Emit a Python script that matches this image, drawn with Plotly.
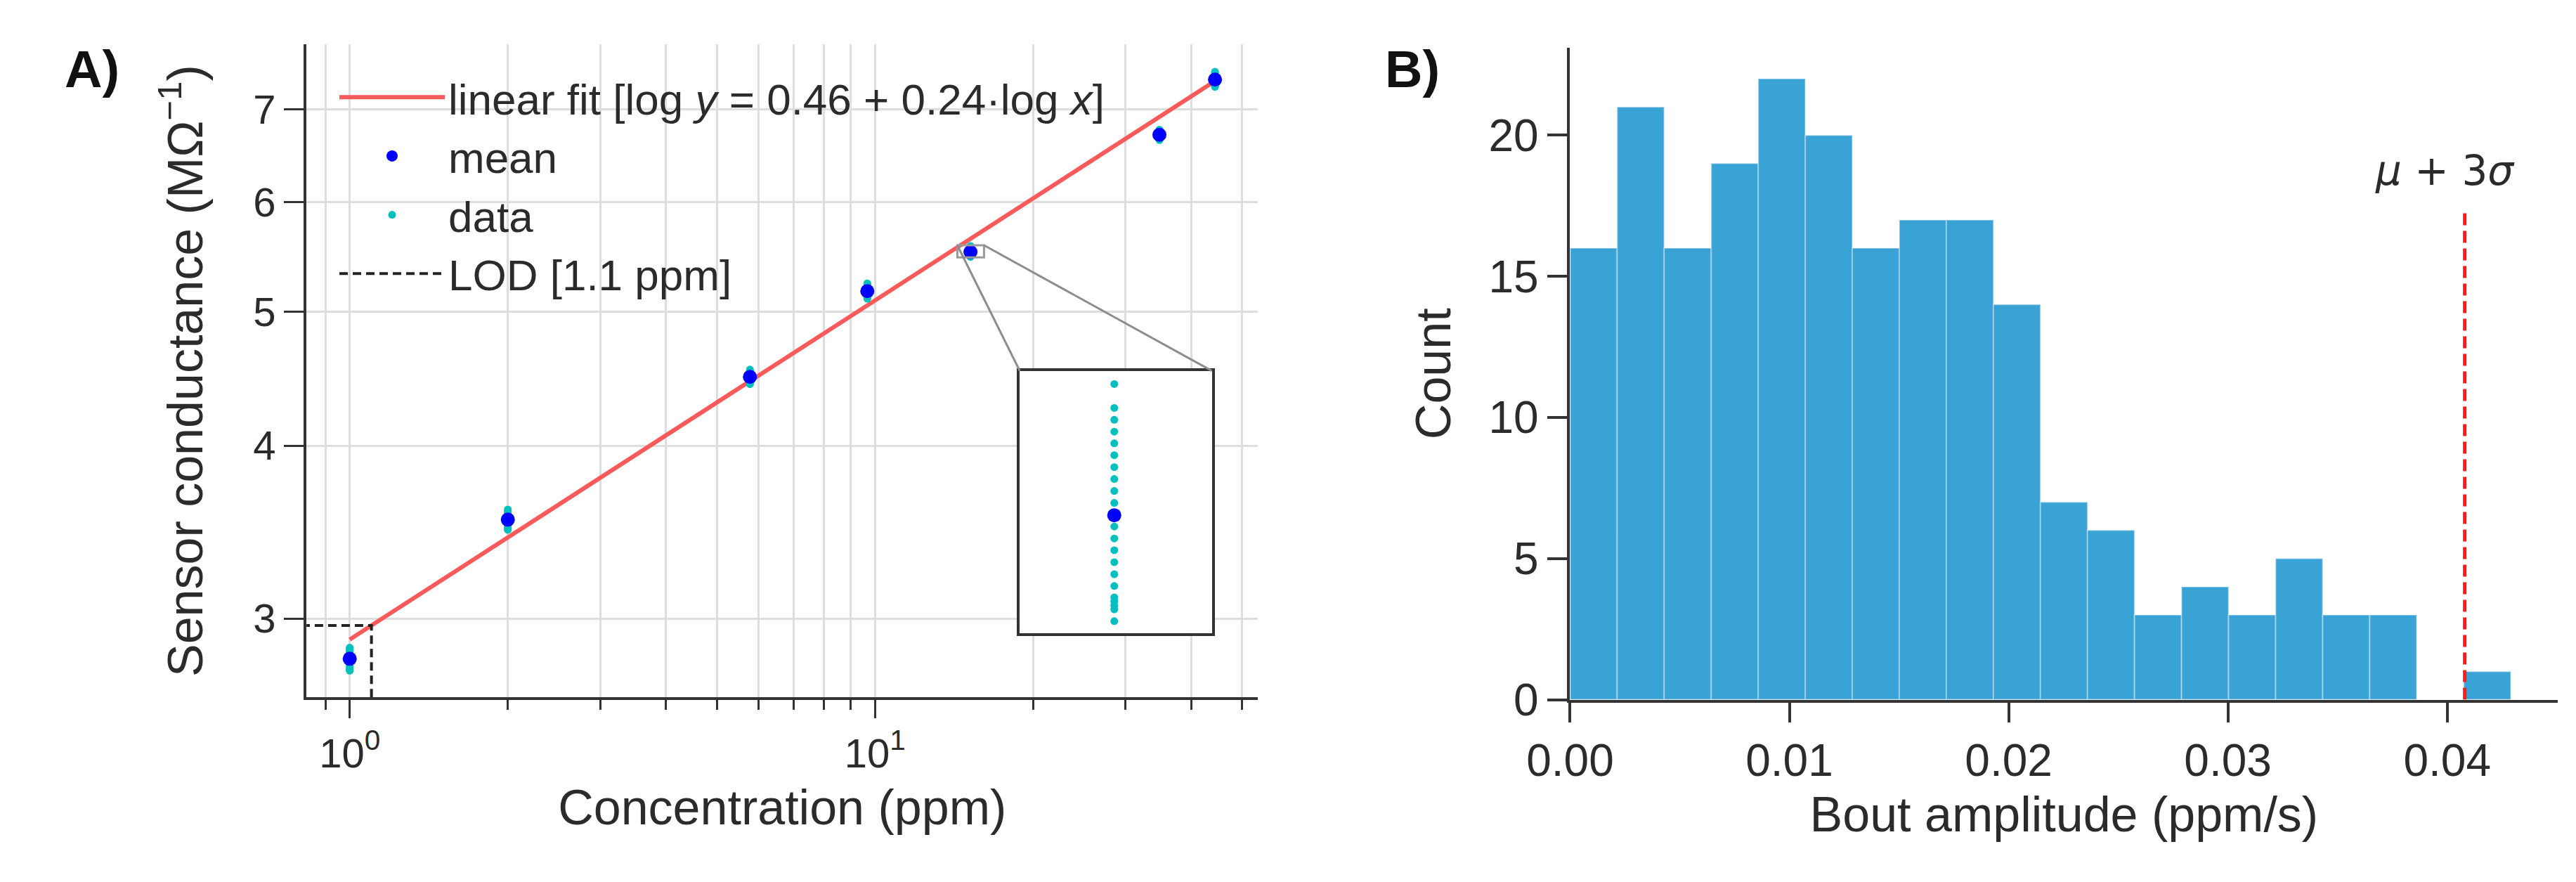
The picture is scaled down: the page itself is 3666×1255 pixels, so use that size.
import numpy as np
import plotly.graph_objects as go

# ---- panel A: sensor calibration ----
conc_ppm = [1.0, 2.0, 5.78, 9.67, 15.2, 34.8, 44.4]
mean_cond = [2.806, 3.537, 4.485, 5.173, 5.521, 6.71, 7.356]

data_1ppm = [2.858, 2.851, 2.842, 2.836, 2.829, 2.820, 2.813, 2.807, 2.798, 2.791,
             2.785, 2.776, 2.770, 2.761, 2.756, 2.751]
data_2ppm = [3.597, 3.588, 3.581, 3.571, 3.564, 3.554, 3.547, 3.537, 3.530, 3.520,
             3.513, 3.503, 3.496, 3.487, 3.481, 3.477]
data_6ppm = [4.540, 4.533, 4.525, 4.519, 4.510, 4.504, 4.495, 4.489, 4.480, 4.474,
             4.465, 4.459, 4.450, 4.444, 4.436, 4.431]
data_10ppm = [5.240, 5.230, 5.223, 5.212, 5.205, 5.194, 5.187, 5.176, 5.169, 5.158,
              5.151, 5.140, 5.133, 5.122, 5.115, 5.108]
data_15ppm = [5.5773, 5.5670, 5.5619, 5.5568, 5.5518, 5.5467, 5.5416, 5.5365, 5.5314,
              5.5263, 5.5212, 5.5162, 5.5111, 5.5061, 5.5010, 5.4959, 5.4909, 5.4861,
              5.4844, 5.4826, 5.4810, 5.4760]
data_35ppm = [6.768, 6.759, 6.752, 6.743, 6.736, 6.727, 6.720, 6.711, 6.704, 6.695,
              6.688, 6.679, 6.672, 6.663, 6.657, 6.651]
data_45ppm = [7.452, 7.439, 7.428, 7.414, 7.403, 7.389, 7.378, 7.364, 7.353, 7.339,
              7.328, 7.314, 7.303, 7.289, 7.278, 7.266]
data_groups = [data_1ppm, data_2ppm, data_6ppm, data_10ppm, data_15ppm, data_35ppm, data_45ppm]

fit_intercept = 0.462
fit_slope = 0.245
lod_ppm = 1.1

# ---- panel B: bout amplitude histogram ----
bin_edges = np.linspace(0.0, 0.0429, 21)
counts = [16, 21, 16, 19, 22, 20, 16, 17, 17, 14, 7, 6, 3, 4, 3, 5, 3, 3, 0, 1]
threshold = 0.0408

TXT = "#2b2b2b"
AX = "#333333"
GRID = "#dedede"
FONT = "Liberation Sans, Arial, sans-serif"

# axis ranges (log10 for log axes)
xr_a = [-0.0824, 1.7294]
yr_a = [0.4202, 0.8921]
dom_xa = [372.4 / 3666, 1750 / 3666]
dom_ya = [1 - 1013.3 / 1255, 1 - 56.7 / 1255]
dom_xb = [2201.7 / 3666, 3631.7 / 3666]
dom_yb = [1 - 1016.7 / 1255, 1 - 61.7 / 1255]
dom_xi = [1405 / 3666, 1683 / 3666]
dom_yi = [1 - 919 / 1255, 1 - 535 / 1255]
ymax_b = 23.1

# inset window around the 15 ppm point
ins_x = [14.35, 16.13]
ins_y = [5.471, 5.583]

fig = go.Figure()

fit_x = [conc_ppm[0], conc_ppm[-1]]
fit_y = [10 ** (fit_intercept + fit_slope * np.log10(v)) for v in fit_x]
fig.add_trace(go.Scatter(
    x=fit_x, y=fit_y, mode="lines",
    line=dict(color="#fa5a5a", width=6),
    name="linear fit [log <i>y</i> = 0.46 + 0.24·log <i>x</i>]",
    legendrank=1, xaxis="x", yaxis="y"))

xs, ys = [], []
for c, grp in zip(conc_ppm, data_groups):
    xs += [c] * len(grp)
    ys += grp
fig.add_trace(go.Scatter(
    x=xs, y=ys, mode="markers",
    marker=dict(color="#00bfbf", size=11),
    name="data", legendrank=3, xaxis="x", yaxis="y"))
fig.add_trace(go.Scatter(
    x=conc_ppm, y=mean_cond, mode="markers",
    marker=dict(color="#0000ff", size=20),
    name="mean", legendrank=2, xaxis="x", yaxis="y"))

lod_y = 10 ** (fit_intercept + fit_slope * np.log10(lod_ppm))
fig.add_trace(go.Scatter(
    x=[lod_ppm, lod_ppm, 10 ** xr_a[0]],
    y=[10 ** yr_a[0], lod_y, lod_y],
    mode="lines", line=dict(color="#222222", width=4, dash="12px,7px"),
    name="LOD [1.1 ppm]", legendrank=4, xaxis="x", yaxis="y"))

# inset: same readings, zoomed
fig.add_trace(go.Scatter(
    x=xs, y=ys, mode="markers", marker=dict(color="#00bfbf", size=11),
    showlegend=False, xaxis="x3", yaxis="y3"))
fig.add_trace(go.Scatter(
    x=conc_ppm, y=mean_cond, mode="markers", marker=dict(color="#0000ff", size=20),
    showlegend=False, xaxis="x3", yaxis="y3"))

# histogram
centers = (bin_edges[:-1] + bin_edges[1:]) / 2
fig.add_trace(go.Bar(
    x=centers, y=counts, width=bin_edges[1] - bin_edges[0],
    marker=dict(color="#3aa3d5", line=dict(color="rgba(255,255,255,0.35)", width=2)),
    showlegend=False, xaxis="x2", yaxis="y2"))
fig.add_trace(go.Scatter(
    x=[threshold, threshold], y=[0, 0.75 * ymax_b], mode="lines",
    line=dict(color="#ff1a1a", width=5, dash="17px,8px"),
    showlegend=False, xaxis="x2", yaxis="y2"))


def to_paper_x(v):
    f = (np.log10(v) - xr_a[0]) / (xr_a[1] - xr_a[0])
    return dom_xa[0] + f * (dom_xa[1] - dom_xa[0])


def to_paper_y(v):
    f = (np.log10(v) - yr_a[0]) / (yr_a[1] - yr_a[0])
    return dom_ya[0] + f * (dom_ya[1] - dom_ya[0])


shapes = [
    dict(type="rect", xref="x", yref="y", x0=ins_x[0], x1=ins_x[1], y0=ins_y[0], y1=ins_y[1],
         line=dict(color="#9a9a9a", width=3)),
    dict(type="line", xref="paper", yref="paper",
         x0=to_paper_x(ins_x[0]), y0=to_paper_y(ins_y[1]), x1=dom_xi[0], y1=dom_yi[1],
         line=dict(color="#8c8c8c", width=3)),
    dict(type="line", xref="paper", yref="paper",
         x0=to_paper_x(ins_x[1]), y0=to_paper_y(ins_y[1]), x1=dom_xi[1], y1=dom_yi[1],
         line=dict(color="#8c8c8c", width=3)),
]

annotations = [
    dict(text="<b>A)</b>", xref="paper", yref="paper", x=20 / 3666, y=1 - 48 / 1255,
         xanchor="left", yanchor="top", showarrow=False,
         font=dict(family=FONT, size=74, color="#111111")),
    dict(text="<b>B)</b>", xref="paper", yref="paper", x=1932 / 3666, y=1 - 48 / 1255,
         xanchor="left", yanchor="top", showarrow=False,
         font=dict(family=FONT, size=74, color="#111111")),
    dict(text="<i>μ</i> + 3<i>σ</i>", xref="x2", yref="y2", x=0.0399, y=18.75,
         showarrow=False, font=dict(family="DejaVu Sans", size=58, color=TXT)),
]

minor_x = [0.9, 2, 3, 4, 5, 6, 7, 8, 9, 20, 30, 40, 50]

fig.update_layout(
    width=3666, height=1255,
    margin=dict(l=0, r=0, t=0, b=0),
    paper_bgcolor="white", plot_bgcolor="white",
    font=dict(family=FONT, color=TXT),
    shapes=shapes, annotations=annotations,
    legend=dict(x=415 / 3666, y=1 - 86 / 1255, xanchor="left", yanchor="top",
                bgcolor="rgba(0,0,0,0)", font=dict(size=62, color=TXT),
                itemwidth=150, tracegroupgap=0),
    xaxis=dict(
        type="log", domain=dom_xa, range=xr_a, anchor="y",
        tickvals=[1, 10], ticktext=["10<sup>0</sup>", "10<sup>1</sup>"],
        ticks="outside", ticklen=26, tickwidth=3, tickcolor=AX,
        tickfont=dict(size=58, color=TXT),
        showline=True, linecolor=AX, linewidth=4,
        showgrid=True, gridcolor=GRID, gridwidth=3, zeroline=False,
        minor=dict(tickmode="array", tickvals=minor_x, ticks="outside", ticklen=14,
                   tickwidth=3, tickcolor=AX, showgrid=True, gridcolor=GRID, gridwidth=3),
        title=dict(text="Concentration (ppm)", font=dict(size=70, color=TXT), standoff=22)),
    yaxis=dict(
        type="log", domain=dom_ya, range=yr_a, anchor="x",
        tickvals=[3, 4, 5, 6, 7], ticktext=["3", "4", "5", "6", "7"],
        ticks="outside", ticklen=28, tickwidth=3, tickcolor=AX,
        tickfont=dict(size=58, color=TXT),
        showline=True, linecolor=AX, linewidth=4,
        showgrid=True, gridcolor=GRID, gridwidth=3, zeroline=False,
        title=dict(text="Sensor conductance (MΩ<sup>−1</sup>)", font=dict(size=70, color=TXT),
                   standoff=50)),
    xaxis2=dict(
        domain=dom_xb, range=[0, 0.04505], anchor="y2",
        tickvals=[0, 0.01, 0.02, 0.03, 0.04], tickformat=".2f",
        ticks="outside", ticklen=28, tickwidth=4, tickcolor=AX,
        tickfont=dict(size=64, color=TXT),
        showline=True, linecolor=AX, linewidth=4, showgrid=False, zeroline=False,
        title=dict(text="Bout amplitude (ppm/s)", font=dict(size=70, color=TXT), standoff=18)),
    yaxis2=dict(
        domain=dom_yb, range=[0, ymax_b], anchor="x2",
        tickvals=[0, 5, 10, 15, 20],
        ticks="outside", ticklen=28, tickwidth=4, tickcolor=AX,
        tickfont=dict(size=64, color=TXT),
        showline=True, linecolor=AX, linewidth=4, showgrid=False, zeroline=False,
        title=dict(text="Count", font=dict(size=70, color=TXT), standoff=32)),
    xaxis3=dict(
        type="log", domain=dom_xi, range=[np.log10(ins_x[0]), np.log10(ins_x[1])], anchor="y3",
        showticklabels=False, ticks="", showgrid=False, zeroline=False,
        showline=True, mirror=True, linecolor=AX, linewidth=4),
    yaxis3=dict(
        type="log", domain=dom_yi, range=[np.log10(ins_y[0]), np.log10(ins_y[1])], anchor="x3",
        showticklabels=False, ticks="", showgrid=False, zeroline=False,
        showline=True, mirror=True, linecolor=AX, linewidth=4),
)

fig.write_html("out.html")
